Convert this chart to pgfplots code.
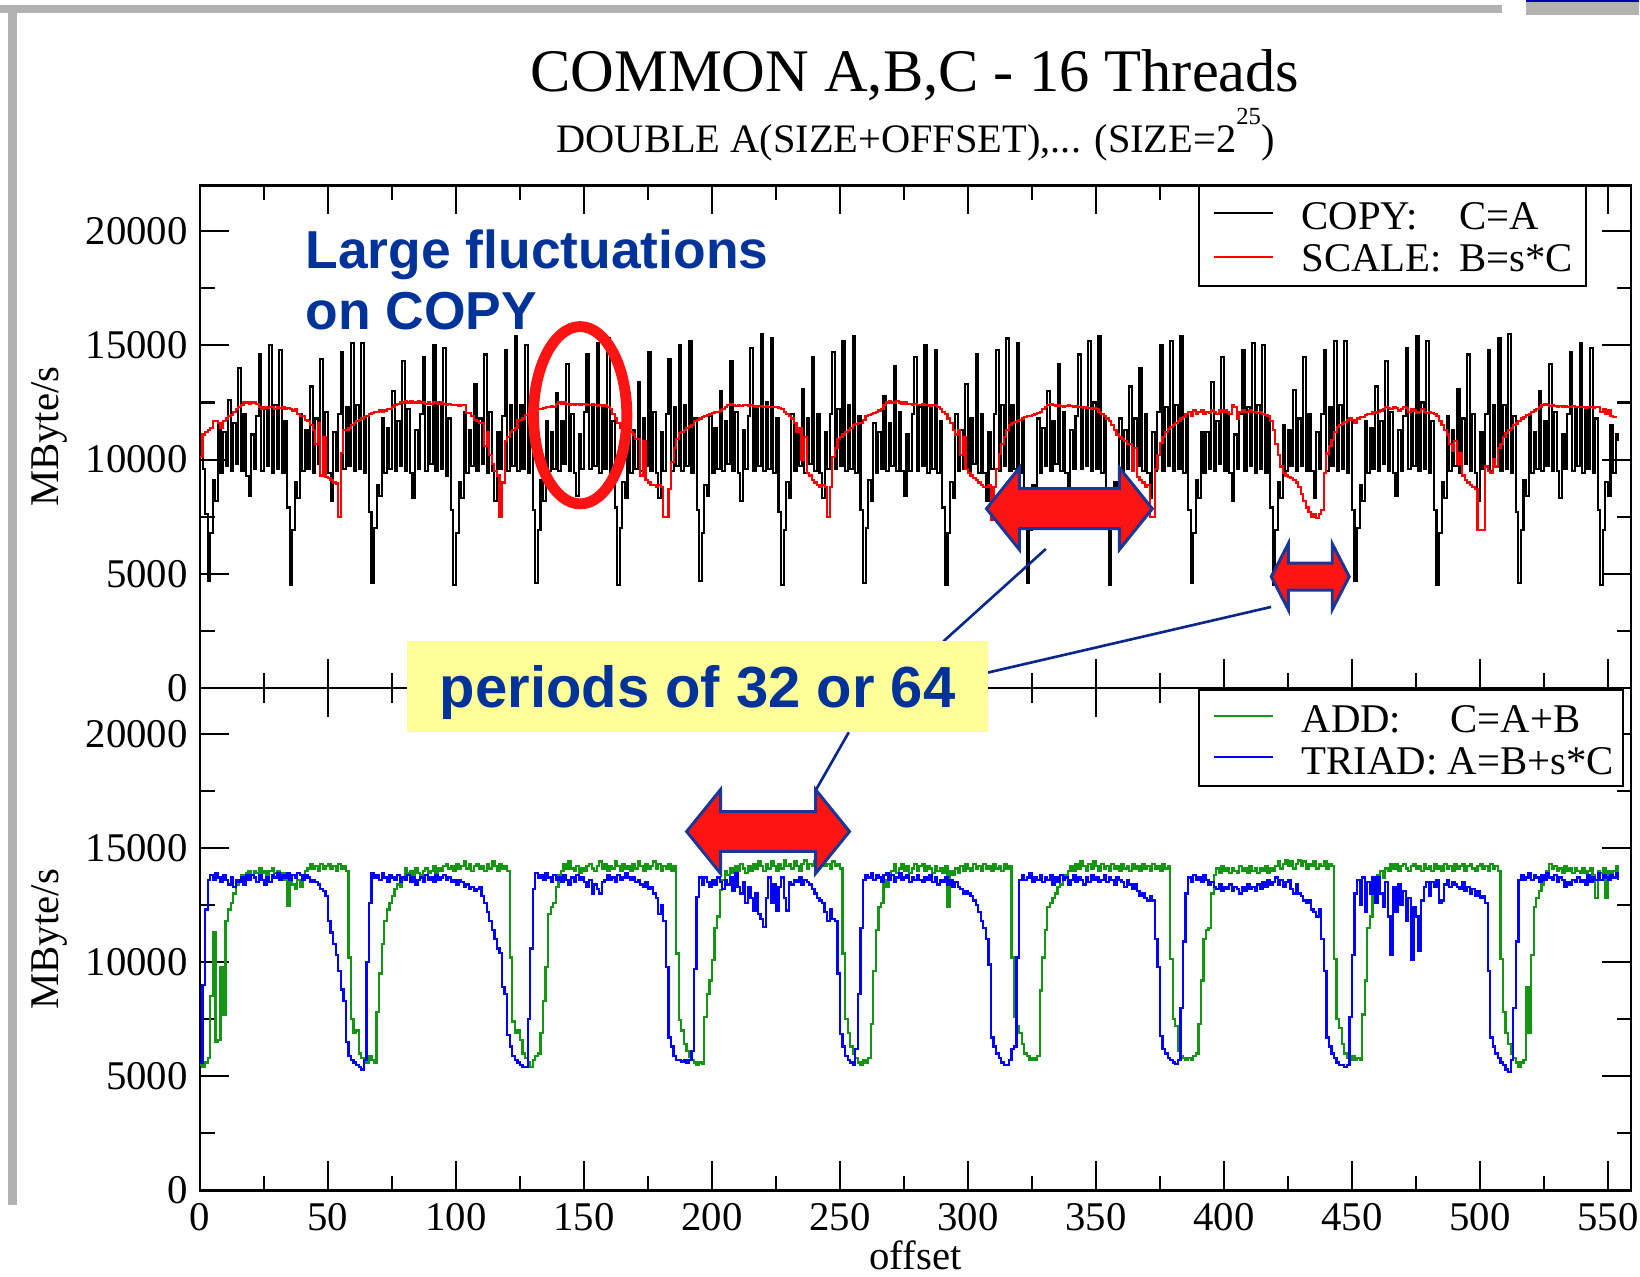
\documentclass[border=0pt]{standalone}
\usepackage{fontspec}
\setmainfont{Liberation Serif}
\newfontfamily\annfont{Liberation Sans}
\usepackage{pgfplots}
\usepackage{pgfplotstable}
\pgfplotsset{compat=1.18}

\definecolor{annblue}{RGB}{0,51,153}
\definecolor{arrowred}{RGB}{255,20,20}
\definecolor{arrowedge}{RGB}{25,55,150}
\definecolor{lineblue}{RGB}{10,40,140}
\definecolor{boxyellow}{RGB}{255,255,153}
\definecolor{slidegray}{RGB}{178,178,178}
\definecolor{addgreen}{RGB}{20,150,20}

% COPY: C=A  (offset 0..554)
\pgfplotstableread[row sep=\\, header=false]{
10800\\ 9600\\ 7600\\
4700\\ 6800\\ 9100\\ 8200\\ 11600\\ 9400\\ 11200\\ 9700\\ 12600\\ 9500\\ 11600\\ 9800\\ 14000\\ 9500\\ 12000\\ 9300\\
8400\\ 11100\\ 9600\\ 11900\\ 14600\\ 9500\\ 12200\\ 9700\\ 15000\\ 9400\\ 12400\\ 9600\\ 14800\\ 9400\\ 11700\\ 7900\\
4500\\ 6900\\ 9000\\ 8300\\ 12000\\ 9500\\ 11300\\ 9600\\ 13200\\ 9400\\ 11800\\ 9800\\ 14400\\ 9500\\ 12100\\ 9400\\
8200\\ 11200\\ 9500\\ 12000\\ 14700\\ 9600\\ 12300\\ 9700\\ 15100\\ 9500\\ 12400\\ 9600\\ 15100\\ 9400\\ 11900\\ 7700\\
4600\\ 7000\\ 8900\\ 8400\\ 11800\\ 9400\\ 11400\\ 9600\\ 13000\\ 9500\\ 11700\\ 9700\\ 14300\\ 9500\\ 12200\\ 9400\\
8300\\ 11300\\ 9600\\ 12000\\ 14500\\ 9500\\ 12300\\ 9800\\ 15000\\ 9500\\ 12500\\ 9600\\ 14900\\ 9300\\ 11800\\ 7800\\
4500\\ 6800\\ 9000\\ 8300\\ 12100\\ 9400\\ 11300\\ 9700\\ 13300\\ 9500\\ 11800\\ 9800\\ 14600\\ 9400\\ 12100\\ 9500\\
8200\\ 11200\\ 9600\\ 11900\\ 14800\\ 9500\\ 12400\\ 9700\\ 15400\\ 9500\\ 12400\\ 9600\\ 15000\\ 9400\\ 11800\\ 7800\\
4600\\ 6900\\ 9100\\ 8200\\ 11700\\ 9500\\ 11200\\ 9600\\ 12900\\ 9500\\ 11700\\ 9800\\ 14200\\ 9500\\ 12000\\ 9400\\
8400\\ 11100\\ 9600\\ 12100\\ 14600\\ 9600\\ 12300\\ 9700\\ 15100\\ 9400\\ 12300\\ 9600\\ 15300\\ 9400\\ 11700\\ 7900\\
4500\\ 7000\\ 9000\\ 8300\\ 12200\\ 9400\\ 11300\\ 9600\\ 13400\\ 9500\\ 11800\\ 9700\\ 14700\\ 9500\\ 12100\\ 9400\\
8300\\ 11200\\ 9500\\ 12000\\ 14400\\ 9500\\ 12300\\ 9700\\ 15000\\ 9500\\ 12400\\ 9700\\ 15200\\ 9400\\ 11800\\ 7800\\
4700\\ 6800\\ 8900\\ 8400\\ 11900\\ 9400\\ 11400\\ 9600\\ 13000\\ 9500\\ 11700\\ 9800\\ 14300\\ 9500\\ 12100\\ 9400\\
8200\\ 11300\\ 9600\\ 11900\\ 14900\\ 9500\\ 12300\\ 9700\\ 15500\\ 9500\\ 12500\\ 9600\\ 15300\\ 9400\\ 11800\\ 7700\\
4500\\ 6900\\ 9000\\ 8300\\ 12000\\ 9500\\ 11300\\ 9700\\ 13100\\ 9400\\ 11800\\ 9800\\ 14500\\ 9500\\ 12000\\ 9400\\
8300\\ 11200\\ 9600\\ 12000\\ 14700\\ 9600\\ 12200\\ 9700\\ 15200\\ 9500\\ 12400\\ 9600\\ 15400\\ 9400\\ 11900\\ 7800\\
4600\\ 7000\\ 9100\\ 8200\\ 11600\\ 9400\\ 11200\\ 9600\\ 12800\\ 9500\\ 11600\\ 9700\\ 14100\\ 9500\\ 12100\\ 9500\\
8400\\ 11100\\ 9500\\ 12000\\ 14500\\ 9500\\ 12300\\ 9700\\ 15000\\ 9400\\ 12300\\ 9600\\ 14800\\ 9400\\ 11700\\ 7900\\
4500\\ 6800\\ 9000\\ 8300\\ 12000\\ 9500\\ 11300\\ 9600\\ 13300\\ 9500\\ 11800\\ 9800\\ 14600\\ 9400\\ 12000\\ 9400\\
8200\\ 11200\\ 9600\\ 12000\\ 14800\\ 9500\\ 12400\\ 9700\\ 15300\\ 9500\\ 12400\\ 9600\\ 15100\\ 9400\\ 11800\\ 7800\\
4600\\ 6900\\ 8900\\ 8300\\ 11800\\ 9400\\ 11400\\ 9700\\ 13000\\ 9500\\ 11700\\ 9800\\ 14200\\ 9500\\ 12100\\ 9400\\
8300\\ 11300\\ 9600\\ 11900\\ 14600\\ 9600\\ 12300\\ 9700\\ 15200\\ 9500\\ 12500\\ 9600\\ 15400\\ 9400\\ 11800\\ 7700\\
4500\\ 7000\\ 9000\\ 8400\\ 11800\\ 9500\\ 11300\\ 9600\\ 13200\\ 9500\\ 11800\\ 9700\\ 14000\\ 9500\\ 12000\\ 9400\\
8300\\ 11200\\ 9500\\ 12100\\ 15000\\ 9500\\ 12300\\ 9700\\ 15200\\ 9500\\ 12400\\ 9600\\ 15400\\ 9400\\ 11900\\ 7800\\
4600\\ 6800\\ 9100\\ 8300\\ 11200\\ 9400\\ 11200\\ 9600\\ 13400\\ 9500\\ 11700\\ 9800\\ 14500\\ 9500\\ 12100\\ 9400\\
8200\\ 11100\\ 9600\\ 12000\\ 14800\\ 9500\\ 12300\\ 9700\\ 15100\\ 9400\\ 12400\\ 9600\\ 15000\\ 9400\\ 11800\\ 7900\\
4500\\ 6900\\ 9000\\ 8300\\ 11500\\ 9500\\ 11300\\ 9700\\ 13050\\ 9500\\ 11800\\ 9700\\ 14500\\ 9500\\ 12000\\ 9500\\
8300\\ 11200\\ 9600\\ 12000\\ 14800\\ 9500\\ 12300\\ 9700\\ 15200\\ 9500\\ 12400\\ 9600\\ 15200\\ 9400\\ 11800\\ 7800\\
4700\\ 7000\\ 8900\\ 8200\\ 11700\\ 9400\\ 11400\\ 9600\\ 13200\\ 9500\\ 11700\\ 9800\\ 14300\\ 9500\\ 12100\\ 9400\\
8400\\ 11300\\ 9500\\ 11900\\ 14900\\ 9600\\ 12200\\ 9700\\ 15400\\ 9500\\ 12500\\ 9600\\ 15200\\ 9400\\ 11700\\ 7800\\
4500\\ 6800\\ 9000\\ 8300\\ 11900\\ 9500\\ 11300\\ 9700\\ 13100\\ 9400\\ 11800\\ 9800\\ 14600\\ 9500\\ 12000\\ 9400\\
8200\\ 11200\\ 9600\\ 12000\\ 14800\\ 9500\\ 12400\\ 9700\\ 15300\\ 9500\\ 12400\\ 9600\\ 15500\\ 9400\\ 11900\\ 7700\\
4600\\ 6900\\ 9100\\ 8400\\ 12000\\ 9400\\ 11200\\ 9600\\ 13000\\ 9500\\ 11700\\ 9700\\ 14200\\ 9500\\ 12100\\ 9500\\
8300\\ 11100\\ 9600\\ 12000\\ 14700\\ 9500\\ 12300\\ 9700\\ 15100\\ 9400\\ 12300\\ 9600\\ 14900\\ 9400\\ 11800\\ 7800\\
4500\\ 6900\\ 9000\\ 8400\\ 11500\\ 9400\\ 11100\\ 10800\\
}\copydata

% SCALE: B=s*C  (offset 0..553)
\pgfplotstableread[row sep=\\, header=false]{
10100\\ 11100\\ 11200\\ 11300\\ 11400\\ 11700\\ 11700\\ 11600\\ 11400\\ 11700\\
11800\\ 11900\\ 11950\\ 12100\\ 12200\\ 12300\\ 12400\\ 12500\\ 12500\\ 12450\\
12500\\ 12500\\ 12450\\ 12300\\ 12200\\ 12300\\ 12250\\ 12300\\ 12300\\ 12200\\
12300\\ 12250\\ 12300\\ 12200\\ 12250\\ 12200\\ 12150\\ 12200\\ 12000\\ 11900\\
11900\\ 11750\\ 11700\\ 11500\\ 11300\\ 10700\\ 11600\\ 9300\\ 11000\\ 9250\\
9200\\ 9100\\ 9000\\ 8950\\ 7500\\ 10300\\ 11300\\ 11300\\ 11400\\ 11500\\
11600\\ 11700\\ 11750\\ 11800\\ 11850\\ 11900\\ 12000\\ 12050\\ 12100\\ 12100\\
12150\\ 12100\\ 12150\\ 12200\\ 12200\\ 12300\\ 12400\\ 12450\\ 12500\\ 12500\\
12550\\ 12500\\ 12550\\ 12500\\ 12500\\ 12550\\ 12500\\ 12500\\ 12450\\ 12500\\
12450\\ 12500\\ 12500\\ 12450\\ 12500\\ 12450\\ 12400\\ 12450\\ 12400\\ 12400\\
12400\\ 12350\\ 12400\\ 12400\\ 12050\\ 12050\\ 11900\\ 11750\\ 11700\\ 11600\\
11600\\ 10600\\ 11200\\ 10200\\ 9800\\ 9500\\ 9300\\ 7500\\ 9000\\ 10800\\
11000\\ 11200\\ 11300\\ 11400\\ 11750\\ 11750\\ 11800\\ 11950\\ 12000\\ 12050\\
12100\\ 12150\\ 12200\\ 12200\\ 12250\\ 12300\\ 12300\\ 12350\\ 12300\\ 12450\\
12500\\ 12450\\ 12500\\ 12450\\ 12400\\ 12450\\ 12400\\ 12450\\ 12400\\ 12450\\
12450\\ 12400\\ 12400\\ 12450\\ 12400\\ 12350\\ 12400\\ 12350\\ 12400\\ 12300\\
12200\\ 12000\\ 11800\\ 11600\\ 11400\\ 11300\\ 11200\\ 11200\\ 11200\\ 11100\\
10900\\ 10900\\ 9300\\ 10800\\ 9100\\ 9000\\ 8900\\ 8900\\ 8800\\ 8900\\
8800\\ 7500\\ 7500\\ 8700\\ 9900\\ 10500\\ 10900\\ 11150\\ 11200\\ 11300\\
11400\\ 11450\\ 11500\\ 11700\\ 11750\\ 11800\\ 11850\\ 11900\\ 11950\\ 12000\\
12050\\ 12100\\ 12100\\ 12150\\ 12200\\ 12300\\ 12400\\ 12450\\ 12400\\ 12350\\
12400\\ 12350\\ 12400\\ 12400\\ 12350\\ 12400\\ 12350\\ 12300\\ 12350\\ 12350\\
12300\\ 12350\\ 12300\\ 12300\\ 12300\\ 12300\\ 12250\\ 12200\\ 12100\\ 12000\\
11900\\ 11800\\ 11600\\ 11200\\ 11400\\ 10000\\ 11000\\ 9400\\ 9300\\ 9100\\
9000\\ 8900\\ 8800\\ 8900\\ 8800\\ 7500\\ 8800\\ 10100\\ 10500\\ 10900\\
11000\\ 11100\\ 11200\\ 11300\\ 11400\\ 11500\\ 11550\\ 11600\\ 11600\\ 11750\\
11900\\ 11950\\ 12000\\ 12050\\ 12100\\ 12150\\ 12200\\ 12400\\ 12500\\ 12550\\
12500\\ 12500\\ 12550\\ 12500\\ 12450\\ 12500\\ 12450\\ 12450\\ 12400\\ 12450\\
12400\\ 12400\\ 12450\\ 12400\\ 12400\\ 12350\\ 12400\\ 12400\\ 12300\\ 12200\\
12100\\ 12000\\ 11800\\ 11600\\ 11300\\ 11100\\ 11300\\ 10200\\ 11000\\ 9600\\
9400\\ 9300\\ 9200\\ 9100\\ 9000\\ 8900\\ 8800\\ 8800\\ 8900\\ 7350\\
8800\\ 9600\\ 10250\\ 10700\\ 11000\\ 11300\\ 11500\\ 11600\\ 11650\\ 11700\\
11750\\ 11800\\ 11850\\ 11900\\ 11900\\ 11950\\ 12000\\ 12050\\ 12100\\ 12200\\
12300\\ 12400\\ 12450\\ 12400\\ 12350\\ 12400\\ 12350\\ 12300\\ 12350\\ 12400\\
12350\\ 12300\\ 12350\\ 12300\\ 12300\\ 12250\\ 12300\\ 12250\\ 12200\\ 12250\\
12200\\ 12100\\ 12000\\ 11900\\ 11800\\ 11700\\ 11500\\ 11300\\ 11100\\ 11000\\
10900\\ 10800\\ 10700\\ 10700\\ 9500\\ 10500\\ 9250\\ 9100\\ 9000\\ 8800\\
8900\\ 7500\\ 7500\\ 9600\\ 10200\\ 10720\\ 11000\\ 11200\\ 11350\\ 11440\\
11500\\ 11600\\ 11700\\ 11800\\ 11880\\ 12000\\ 12100\\ 11900\\ 12150\\ 12000\\
12100\\ 12170\\ 12000\\ 12100\\ 12050\\ 12150\\ 12100\\ 12000\\ 12150\\ 12100\\
12170\\ 12100\\ 12000\\ 12400\\ 12300\\ 11800\\ 12100\\ 12150\\ 12100\\ 12100\\
12150\\ 12100\\ 12100\\ 12050\\ 12100\\ 12000\\ 11950\\ 11900\\ 11700\\ 11300\\
10700\\ 10200\\ 9700\\ 9400\\ 9300\\ 9250\\ 9200\\ 9100\\ 9000\\ 8800\\
8500\\ 8200\\ 7900\\ 7700\\ 7500\\ 7600\\ 7450\\ 7600\\ 7800\\ 9400\\
10270\\ 10600\\ 10860\\ 11200\\ 11440\\ 11500\\ 11580\\ 11650\\ 11730\\ 11800\\
11750\\ 11600\\ 11800\\ 11850\\ 11880\\ 11950\\ 12000\\ 12000\\ 12100\\ 12050\\
12100\\ 12150\\ 12200\\ 12300\\ 12250\\ 12200\\ 12300\\ 12250\\ 12150\\ 12200\\
12300\\ 12250\\ 12100\\ 12200\\ 12150\\ 12050\\ 12100\\ 12200\\ 12100\\ 12050\\
12100\\ 12050\\ 12000\\ 11900\\ 11700\\ 11500\\ 11300\\ 11100\\ 10700\\ 10400\\
10800\\ 9800\\ 10300\\ 9300\\ 9100\\ 9000\\ 8900\\ 8800\\ 8700\\ 6900\\
6900\\ 6900\\ 9700\\ 9500\\ 9400\\ 10000\\ 9700\\ 10500\\ 10700\\ 11000\\
11150\\ 11300\\ 11400\\ 11500\\ 11580\\ 11700\\ 11800\\ 11880\\ 11950\\ 12000\\
12100\\ 12150\\ 12200\\ 12300\\ 12400\\ 12450\\ 12400\\ 12350\\ 12400\\ 12350\\
12300\\ 12350\\ 12300\\ 12350\\ 12300\\ 12300\\ 12350\\ 12300\\ 12300\\ 12300\\
12300\\ 12250\\ 12300\\ 12300\\ 12250\\ 12300\\ 12300\\ 12100\\ 12200\\ 12000\\
12150\\ 11900\\ 11880\\ 11850\\
}\scaledata

% ADD: C=A+B  (offset 0..554)
\pgfplotstableread[row sep=\\, header=false]{
5500\\ 5400\\ 5600\\ 5800\\ 8500\\ 11300\\ 6500\\ 6600\\ 9800\\ 7700\\
11800\\ 12300\\ 12600\\ 13000\\ 13400\\ 13600\\ 13800\\ 13700\\ 13900\\ 14000\\
13800\\ 14000\\ 13900\\ 14100\\ 13900\\ 14000\\ 13800\\ 14000\\ 14100\\ 13900\\
14000\\ 13800\\ 13900\\ 13600\\ 12450\\ 13700\\ 13400\\ 13200\\ 13600\\ 13300\\
13600\\ 14000\\ 14100\\ 14300\\ 14100\\ 14200\\ 14000\\ 14300\\ 14100\\ 14200\\
14300\\ 14100\\ 14200\\ 14000\\ 14300\\ 14100\\ 14200\\ 14000\\ 10200\\ 7500\\
6900\\ 7000\\ 6000\\ 5800\\ 5700\\ 5600\\ 5900\\ 5700\\ 5600\\ 7800\\
9500\\ 10800\\ 11800\\ 12300\\ 12600\\ 12900\\ 13200\\ 13400\\ 13300\\ 13600\\
14100\\ 13900\\ 14000\\ 13800\\ 14100\\ 13900\\ 13800\\ 14000\\ 14100\\ 13900\\
14000\\ 14200\\ 13900\\ 14100\\ 14000\\ 14200\\ 14300\\ 14100\\ 14200\\ 14000\\
14300\\ 14100\\ 14200\\ 14400\\ 14100\\ 14300\\ 14000\\ 14200\\ 14300\\ 14100\\
14200\\ 14000\\ 14300\\ 14100\\ 14400\\ 14200\\ 14000\\ 14300\\ 14100\\ 14200\\
14000\\ 10200\\ 7400\\ 6900\\ 7000\\ 6600\\ 6000\\ 5800\\ 5600\\ 5400\\
5700\\ 5900\\ 6000\\ 6900\\ 8300\\ 9800\\ 12100\\ 12400\\ 12600\\ 13300\\
13800\\ 14000\\ 14300\\ 14100\\ 14400\\ 14100\\ 14000\\ 14200\\ 13900\\ 14100\\
14000\\ 14200\\ 14300\\ 14100\\ 14000\\ 14200\\ 14400\\ 14100\\ 14300\\ 14000\\
14200\\ 14100\\ 14400\\ 14200\\ 14000\\ 14300\\ 14100\\ 14200\\ 14000\\ 14300\\
14100\\ 14400\\ 14200\\ 14000\\ 14300\\ 14100\\ 14200\\ 14400\\ 14100\\ 14300\\
14000\\ 14200\\ 14100\\ 14300\\ 14000\\ 14200\\ 10370\\ 7450\\ 7000\\ 6400\\
6100\\ 5850\\ 5700\\ 5600\\ 5500\\ 5600\\ 5550\\ 7600\\ 8600\\ 9200\\
10100\\ 11500\\ 12000\\ 13170\\ 13600\\ 14000\\ 13800\\ 14100\\ 13900\\ 14200\\
14000\\ 14300\\ 14100\\ 13900\\ 14200\\ 14000\\ 14300\\ 14100\\ 14400\\ 14200\\
14000\\ 14300\\ 14100\\ 14400\\ 14200\\ 14000\\ 14300\\ 14100\\ 14450\\ 14200\\
14300\\ 14100\\ 14400\\ 14200\\ 14000\\ 14300\\ 14450\\ 14100\\ 14300\\ 14200\\
14400\\ 14100\\ 14300\\ 14450\\ 14200\\ 14300\\ 14100\\ 14400\\ 14200\\ 14300\\
14100\\ 10370\\ 7500\\ 6900\\ 6300\\ 6000\\ 5800\\ 5600\\ 5500\\ 5700\\
5600\\ 5800\\ 7300\\ 9600\\ 11400\\ 12400\\ 12600\\ 13570\\ 13300\\ 13600\\
14000\\ 14300\\ 13900\\ 14100\\ 14300\\ 14000\\ 14200\\ 13900\\ 14100\\ 14300\\
14000\\ 14200\\ 14300\\ 14000\\ 14200\\ 14100\\ 13900\\ 14200\\ 14000\\ 14100\\
13900\\ 14200\\ 12400\\ 14000\\ 13800\\ 14100\\ 13900\\ 14200\\ 14000\\ 14300\\
14100\\ 14000\\ 14300\\ 14100\\ 14200\\ 14000\\ 14300\\ 14100\\ 14200\\ 14000\\
14300\\ 14100\\ 14200\\ 14000\\ 14300\\ 14100\\ 14200\\ 10200\\ 7600\\ 7200\\
6900\\ 6400\\ 6000\\ 5900\\ 5700\\ 5800\\ 5700\\ 5900\\ 8760\\ 10200\\
11400\\ 12400\\ 12600\\ 12800\\ 13000\\ 13300\\ 13400\\ 13600\\ 13800\\ 14000\\
14200\\ 14000\\ 14300\\ 14100\\ 14400\\ 14200\\ 14000\\ 14300\\ 14100\\ 14400\\
14200\\ 14000\\ 14300\\ 14100\\ 14200\\ 14000\\ 14300\\ 14100\\ 14200\\ 14000\\
14300\\ 14100\\ 14200\\ 14000\\ 14300\\ 14100\\ 14200\\ 14000\\ 14300\\ 14100\\
14200\\ 14000\\ 14300\\ 14100\\ 14200\\ 14000\\ 14300\\ 14100\\ 14200\\ 10150\\
7500\\ 7200\\ 6100\\ 5900\\ 5800\\ 5700\\ 5800\\ 5700\\ 5900\\ 6000\\
7300\\ 9200\\ 11000\\ 11400\\ 11500\\ 13000\\ 13800\\ 14100\\ 13900\\ 14200\\
14000\\ 14100\\ 13900\\ 14100\\ 14000\\ 13900\\ 14200\\ 14000\\ 14100\\ 13900\\
14200\\ 14000\\ 14100\\ 13900\\ 14100\\ 14000\\ 14200\\ 13900\\ 14100\\ 14000\\
14200\\ 14400\\ 14100\\ 14300\\ 14450\\ 14200\\ 14400\\ 14100\\ 14300\\ 14450\\
14200\\ 14400\\ 14100\\ 14300\\ 14200\\ 14400\\ 14100\\ 14300\\ 14200\\ 14400\\
14100\\ 14300\\ 14200\\ 10150\\ 7500\\ 7100\\ 6400\\ 6000\\ 5800\\ 5700\\
5900\\ 5700\\ 5800\\ 5700\\ 7700\\ 9200\\ 11500\\ 12000\\ 13300\\ 13600\\
13800\\ 14000\\ 13700\\ 14100\\ 14000\\ 14300\\ 14100\\ 14300\\ 14000\\ 14200\\
14300\\ 14100\\ 14000\\ 14200\\ 14300\\ 14100\\ 14200\\ 14000\\ 14300\\ 14100\\
14200\\ 14000\\ 14300\\ 14100\\ 14200\\ 14000\\ 14300\\ 14100\\ 14200\\ 14000\\
14300\\ 14100\\ 14200\\ 14300\\ 14000\\ 14200\\ 14300\\ 14100\\ 14000\\ 14200\\
14300\\ 14100\\ 14200\\ 14000\\ 14300\\ 14100\\ 14200\\ 14000\\ 10150\\ 7800\\
6900\\ 6400\\ 6000\\ 5800\\ 5600\\ 5400\\ 5600\\ 5700\\ 8900\\ 6900\\
10300\\ 12400\\ 12800\\ 13100\\ 13400\\ 13700\\ 14000\\ 14300\\ 14100\\ 14200\\
14000\\ 14100\\ 13900\\ 14200\\ 14000\\ 14100\\ 13900\\ 14100\\ 14000\\ 13900\\
14100\\ 13900\\ 14000\\ 14100\\ 13800\\ 12800\\ 14000\\ 13900\\ 14100\\ 12800\\
14000\\ 13800\\ 14000\\ 14200\\ 13800\\
}\adddata

% TRIAD: A=B+s*C  (offset 0..554)
\pgfplotstableread[row sep=\\, header=false]{
5600\\ 9000\\ 12300\\ 13600\\ 13800\\ 13600\\ 13900\\ 13700\\ 13500\\ 13800\\
13600\\ 13400\\ 13700\\ 13300\\ 13600\\ 13500\\ 13700\\ 13400\\ 13800\\ 13600\\
13800\\ 13700\\ 13500\\ 13800\\ 13600\\ 13400\\ 13700\\ 13500\\ 13800\\ 13700\\
13900\\ 13600\\ 13800\\ 13700\\ 13900\\ 13600\\ 13800\\ 13700\\ 13900\\ 13800\\
13600\\ 13800\\ 13700\\ 13500\\ 13600\\ 13500\\ 13400\\ 13200\\ 13100\\ 12900\\
11800\\ 11300\\ 10800\\ 10300\\ 9600\\ 8800\\ 8300\\ 6500\\ 5900\\ 5700\\
5600\\ 5500\\ 5400\\ 5300\\ 5700\\ 10000\\ 12600\\ 13900\\ 13700\\ 13800\\
13600\\ 13900\\ 13700\\ 13500\\ 13800\\ 13700\\ 13600\\ 13800\\ 13500\\ 13700\\
13600\\ 13800\\ 13500\\ 13700\\ 13400\\ 13600\\ 13700\\ 13500\\ 13800\\ 13600\\
13700\\ 13500\\ 13800\\ 13600\\ 13700\\ 13800\\ 13600\\ 13700\\ 13500\\ 13600\\
13400\\ 13600\\ 13500\\ 13300\\ 13400\\ 13200\\ 13300\\ 13100\\ 13200\\ 13300\\
12900\\ 12600\\ 12200\\ 11800\\ 11400\\ 11000\\ 10600\\ 10400\\ 8900\\ 8600\\
6800\\ 6300\\ 5900\\ 5700\\ 5600\\ 5500\\ 5400\\ 5400\\ 7500\\ 10600\\
13200\\ 13900\\ 13700\\ 13800\\ 13600\\ 13900\\ 13700\\ 13500\\ 13800\\ 13600\\
13700\\ 13500\\ 13800\\ 13600\\ 13400\\ 13700\\ 13500\\ 13800\\ 13600\\ 13700\\
13500\\ 13300\\ 13600\\ 13000\\ 13400\\ 13200\\ 13000\\ 13500\\ 13600\\ 13800\\
13600\\ 13700\\ 13500\\ 13800\\ 13600\\ 13700\\ 13900\\ 13700\\ 13600\\ 13700\\
13500\\ 13600\\ 13400\\ 13300\\ 13500\\ 13200\\ 13300\\ 13000\\ 12800\\ 12100\\
12500\\ 11800\\ 9800\\ 6700\\ 6300\\ 5900\\ 5700\\ 5700\\ 5650\\ 5700\\
5600\\ 5700\\ 6100\\ 9700\\ 12850\\ 13700\\ 13400\\ 13700\\ 13500\\ 13300\\
13600\\ 13400\\ 13700\\ 13500\\ 13200\\ 13600\\ 13400\\ 13700\\ 13100\\ 13900\\
13300\\ 13000\\ 13500\\ 12600\\ 13300\\ 12800\\ 12260\\ 13000\\ 12100\\ 11900\\
11530\\ 12800\\ 13700\\ 12600\\ 13400\\ 12260\\ 13300\\ 13700\\ 12800\\ 12260\\
13500\\ 13400\\ 13600\\ 13500\\ 13700\\ 13400\\ 13600\\ 13500\\ 13400\\ 13200\\
13000\\ 12800\\ 12700\\ 12600\\ 12200\\ 11800\\ 12300\\ 11900\\ 11800\\ 9500\\
6860\\ 6300\\ 5900\\ 5700\\ 5600\\ 5500\\ 6200\\ 8600\\ 11500\\ 13600\\
13800\\ 13700\\ 13900\\ 13600\\ 13800\\ 13700\\ 13500\\ 13800\\ 13900\\ 13600\\
13800\\ 13500\\ 13700\\ 13900\\ 13600\\ 13700\\ 13800\\ 13500\\ 13700\\ 13600\\
13800\\ 13600\\ 13500\\ 13700\\ 13600\\ 13800\\ 13500\\ 13700\\ 13400\\ 13600\\
13500\\ 13700\\ 13400\\ 13600\\ 13300\\ 13500\\ 13300\\ 13200\\ 13000\\ 13100\\
13000\\ 12900\\ 12700\\ 12500\\ 12200\\ 11800\\ 11500\\ 11000\\ 9900\\ 6700\\
6300\\ 6000\\ 5800\\ 5600\\ 5500\\ 5500\\ 5700\\ 6200\\ 6300\\ 10200\\
13600\\ 13800\\ 13600\\ 13700\\ 13900\\ 13500\\ 13700\\ 13600\\ 13800\\ 13500\\
13700\\ 13600\\ 13800\\ 13400\\ 13700\\ 13500\\ 13800\\ 13600\\ 13700\\ 13400\\
13600\\ 13800\\ 13500\\ 13700\\ 13600\\ 13400\\ 13700\\ 13500\\ 13800\\ 13600\\
13700\\ 13500\\ 13600\\ 13800\\ 13500\\ 13700\\ 13600\\ 13400\\ 13700\\ 13600\\
13500\\ 13300\\ 13600\\ 13400\\ 13200\\ 13400\\ 13100\\ 12900\\ 13000\\ 12800\\
12700\\ 12900\\ 12700\\ 11000\\ 9800\\ 6760\\ 6200\\ 6000\\ 5800\\ 5700\\
5600\\ 5550\\ 5700\\ 8000\\ 10900\\ 13000\\ 13700\\ 13500\\ 13800\\ 13600\\
13700\\ 13500\\ 13800\\ 13600\\ 13400\\ 13500\\ 13300\\ 13200\\ 13400\\ 13100\\
13300\\ 13200\\ 13400\\ 13100\\ 13300\\ 13200\\ 13000\\ 13300\\ 13100\\ 13400\\
13200\\ 13300\\ 13100\\ 13400\\ 13200\\ 13500\\ 13300\\ 13600\\ 13400\\ 13500\\
13700\\ 13400\\ 13600\\ 13300\\ 13500\\ 13600\\ 13200\\ 13000\\ 13400\\ 13000\\
12900\\ 12700\\ 12600\\ 12700\\ 12300\\ 12200\\ 12000\\ 12300\\ 11000\\ 9600\\
6700\\ 6300\\ 6000\\ 5800\\ 5600\\ 5500\\ 5500\\ 5400\\ 5500\\ 7600\\
10300\\ 13000\\ 13600\\ 12500\\ 13700\\ 12200\\ 13500\\ 13000\\ 13700\\ 12600\\
13700\\ 13000\\ 12400\\ 13500\\ 12000\\ 10300\\ 13300\\ 12200\\ 13400\\ 12500\\
13100\\ 11800\\ 12800\\ 10100\\ 12400\\ 12000\\ 10500\\ 12700\\ 13300\\ 13500\\
12900\\ 13500\\ 13300\\ 13600\\ 12600\\ 12700\\ 13400\\ 13600\\ 13300\\ 13500\\
13400\\ 13300\\ 13200\\ 13500\\ 13100\\ 13300\\ 13000\\ 13200\\ 12900\\ 13100\\
12800\\ 12900\\ 12600\\ 9600\\ 6700\\ 6300\\ 6000\\ 5800\\ 5600\\ 5500\\
5300\\ 5200\\ 5700\\ 8000\\ 10900\\ 13600\\ 13800\\ 13600\\ 13700\\ 13900\\
13600\\ 13800\\ 13700\\ 13500\\ 13800\\ 13600\\ 13900\\ 13700\\ 13600\\ 13800\\
13500\\ 13700\\ 13600\\ 13300\\ 13500\\ 13400\\ 13600\\ 13500\\ 13700\\ 13500\\
13600\\ 13400\\ 13800\\ 13500\\ 13700\\ 13600\\ 13900\\ 13600\\ 13800\\ 13700\\
13600\\ 13800\\ 13700\\ 13900\\ 13600\\
}\triaddata

\pgfplotsset{panel/.style={
  scale only axis, width=14.31cm, height=5.025cm,
  xmin=0, xmax=559, ymin=0, ymax=22000,
  xtick={0,50,...,550}, minor x tick num=1,
  ytick={0,5000,10000,15000,20000}, minor y tick num=1,
  tick align=inside, tick pos=both,
  major tick length=2.9mm, minor tick length=1.45mm,
  axis line style={line width=0.75pt},
  tick style={black, line width=0.6pt},
  scaled y ticks=false,
  /pgf/number format/1000 sep={},
  /pgf/number format/assume math mode=true,
  tick label style={font=\fontsize{11.6}{13}\selectfont},
  ylabel={MByte/s},
  ylabel style={font=\fontsize{11.6}{13}\selectfont, at={(axis description cs:-0.1055,0.5)}, anchor=center},
}}

\begin{document}
\begin{tikzpicture}
\useasboundingbox (0,0) rectangle (16.4cm,12.76cm);

\begin{axis}[panel, at={(2cm,5.88cm)}, anchor=south west, xticklabels={}]
\addplot[const plot, black, line width=0.6pt] table[x expr=\coordindex, y index=0] {\copydata};
\addplot[const plot, red, line width=0.62pt] table[x expr=\coordindex, y index=0] {\scaledata};
\end{axis}

\begin{axis}[panel, at={(2cm,0.855cm)}, anchor=south west,
  xlabel={offset},
  xlabel style={font=\fontsize{11.6}{13}\selectfont, at={(axis description cs:0.5,-0.158)}, anchor=base}]
\addplot[const plot, addgreen, line width=0.65pt] table[x expr=\coordindex, y index=0] {\adddata};
\addplot[const plot, blue, line width=0.65pt] table[x expr=\coordindex, y index=0] {\triaddata};
\end{axis}

\begin{scope}[x=0.01cm, y=-0.01cm, shift={(0,12.76cm)}]
  % slide frame
  \fill[slidegray] (0,5) rectangle (1503,13.3);
  \fill[slidegray] (8,13) rectangle (17.5,1206);
  \fill[slidegray] (1527,0) rectangle (1640,15);
  \fill[blue!70!black] (1527,0) rectangle (1640,2.5);

  % titles
  \node[anchor=base, inner sep=0] at (915.5,92) {\fontsize{17.2}{20}\selectfont COMMON A,B,C - 16 Threads};
  \node[anchor=base, inner sep=0] at (916,153) {\fontsize{11.5}{13}\selectfont DOUBLE A(SIZE+OFFSET),... (SIZE=2\raisebox{8pt}{\fontsize{7}{8}\selectfont 25})};

  % legends
  \draw[line width=0.6pt, fill=white] (1200,186.5) rectangle (1586.5,286);
  \draw[black, line width=0.6pt] (1215,213.3) -- (1273.3,213.3);
  \draw[red, line width=0.6pt] (1215,257.3) -- (1273.3,257.3);
  \node[anchor=base west, inner sep=0] at (1301.7,230) {\fontsize{11.6}{13}\selectfont\makebox[15.76mm][l]{COPY:}C=A};
  \node[anchor=base west, inner sep=0] at (1301.7,271.7) {\fontsize{11.6}{13}\selectfont\makebox[15.76mm][l]{SCALE:}B=s*C};

  \draw[line width=0.6pt, fill=white] (1200,690) rectangle (1624,786.5);
  \draw[addgreen, line width=0.6pt] (1215,716.6) -- (1273.3,716.6);
  \draw[blue, line width=0.6pt] (1215,757) -- (1273.3,757);
  \node[anchor=base west, inner sep=0] at (1301.7,733.3) {\fontsize{11.6}{13}\selectfont\makebox[14.9mm][l]{ADD:}C=A+B};
  \node[anchor=base west, inner sep=0] at (1301.7,775) {\fontsize{11.6}{13}\selectfont TRIAD: A=B+s*C};

  % annotation: large fluctuations
  \node[anchor=base west, inner sep=0, text=annblue] at (305,268.8) {\annfont\bfseries\fontsize{15.2}{17}\selectfont Large fluctuations};
  \node[anchor=base west, inner sep=0, text=annblue] at (305,329.5) {\annfont\bfseries\fontsize{15.2}{17}\selectfont on COPY};
  \draw[arrowred, line width=3.1pt] (580.5,415.5) ellipse [x radius=46.7, y radius=88.7];

  % connector lines
  \draw[lineblue, line width=0.75pt] (944,641.7) -- (1046.4,549.3);
  \draw[lineblue, line width=0.75pt] (987,673.3) -- (1271.8,607.3);
  \draw[lineblue, line width=0.75pt] (849.3,732.7) -- (815.6,791.7);

  % double arrows
  \draw[fill=arrowred, draw=arrowedge, line width=0.85pt, line join=miter]
    (987,509) -- (1020,468) -- (1020,489) -- (1120,489) -- (1120,468) -- (1153,509)
    -- (1120,550) -- (1120,529) -- (1020,529) -- (1020,550) -- cycle;
  \draw[fill=arrowred, draw=arrowedge, line width=0.85pt, line join=miter]
    (1272,577) -- (1289,544) -- (1289,563.5) -- (1333,563.5) -- (1333,544) -- (1350,577)
    -- (1333,610) -- (1333,590.5) -- (1289,590.5) -- (1289,610) -- cycle;
  \draw[fill=arrowred, draw=arrowedge, line width=0.85pt, line join=miter]
    (687,832) -- (721,790) -- (721,812) -- (816,812) -- (816,790) -- (850,832)
    -- (816,874) -- (816,852) -- (721,852) -- (721,874) -- cycle;

  % yellow label
  \fill[boxyellow] (407,641.7) rectangle (988.3,732.7);
  \node[anchor=base, inner sep=0, text=annblue] at (698,708.3) {\annfont\bfseries\fontsize{16.5}{19}\selectfont periods of 32 or 64};
\end{scope}
\end{tikzpicture}
\end{document}
